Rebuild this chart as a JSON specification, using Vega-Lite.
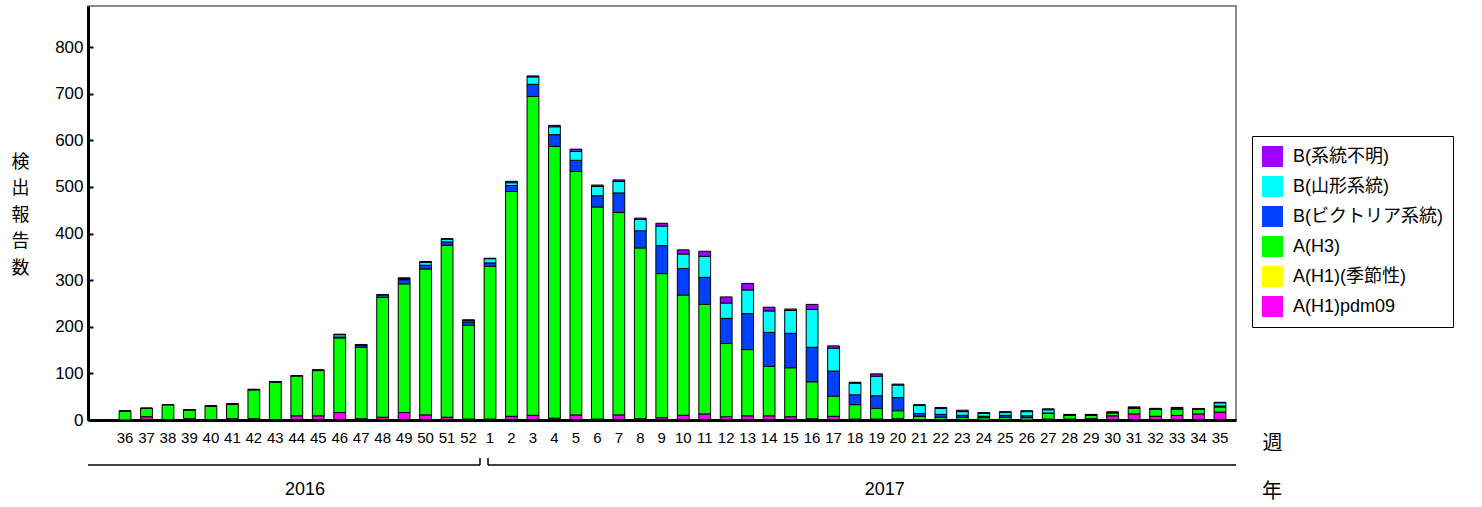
{
  "$schema": "https://vega.github.io/schema/vega-lite/v6.json",
  "width": 1148,
  "height": 414,
  "autosize": {"type": "none"},
  "padding": {"left": 88, "top": 6, "right": 246, "bottom": 87},
  "background": "white",
  "config": {
    "font": "Liberation Sans, Noto Sans CJK JP, sans-serif",
    "view": {"stroke": "#8a8a8a", "strokeWidth": 2}
  },
  "title": {"text": "年", "orient": "bottom", "anchor": "end", "frame": "group", "dx": 46, "offset": -17, "fontSize": 20, "font": "Noto Sans CJK JP", "fontWeight": "normal", "color": "black"},
  "datasets": {
    "counts": [
      {"week": 36, "A(H1)pdm09": 0, "A(H1)(季節性)": 0, "A(H3)": 19, "B(ビクトリア系統)": 0, "B(山形系統)": 0, "B(系統不明)": 0},
      {"week": 37, "A(H1)pdm09": 7, "A(H1)(季節性)": 0, "A(H3)": 18, "B(ビクトリア系統)": 0, "B(山形系統)": 0, "B(系統不明)": 0},
      {"week": 38, "A(H1)pdm09": 1, "A(H1)(季節性)": 0, "A(H3)": 32, "B(ビクトリア系統)": 0, "B(山形系統)": 0, "B(系統不明)": 0},
      {"week": 39, "A(H1)pdm09": 3, "A(H1)(季節性)": 0, "A(H3)": 19, "B(ビクトリア系統)": 0, "B(山形系統)": 0, "B(系統不明)": 0},
      {"week": 40, "A(H1)pdm09": 1, "A(H1)(季節性)": 0, "A(H3)": 29, "B(ビクトリア系統)": 0, "B(山形系統)": 0, "B(系統不明)": 0},
      {"week": 41, "A(H1)pdm09": 3, "A(H1)(季節性)": 0, "A(H3)": 31, "B(ビクトリア系統)": 0, "B(山形系統)": 0, "B(系統不明)": 0},
      {"week": 42, "A(H1)pdm09": 3, "A(H1)(季節性)": 0, "A(H3)": 62, "B(ビクトリア系統)": 0, "B(山形系統)": 0, "B(系統不明)": 1},
      {"week": 43, "A(H1)pdm09": 1, "A(H1)(季節性)": 0, "A(H3)": 81, "B(ビクトリア系統)": 0, "B(山形系統)": 0, "B(系統不明)": 0},
      {"week": 44, "A(H1)pdm09": 9, "A(H1)(季節性)": 0, "A(H3)": 86, "B(ビクトリア系統)": 0, "B(山形系統)": 0, "B(系統不明)": 0},
      {"week": 45, "A(H1)pdm09": 9, "A(H1)(季節性)": 0, "A(H3)": 97, "B(ビクトリア系統)": 1, "B(山形系統)": 0, "B(系統不明)": 0},
      {"week": 46, "A(H1)pdm09": 16, "A(H1)(季節性)": 0, "A(H3)": 160, "B(ビクトリア系統)": 2, "B(山形系統)": 5, "B(系統不明)": 1},
      {"week": 47, "A(H1)pdm09": 3, "A(H1)(季節性)": 0, "A(H3)": 153, "B(ビクトリア系統)": 4, "B(山形系統)": 1, "B(系統不明)": 1},
      {"week": 48, "A(H1)pdm09": 6, "A(H1)(季節性)": 0, "A(H3)": 257, "B(ビクトリア系統)": 1, "B(山形系統)": 4, "B(系統不明)": 1},
      {"week": 49, "A(H1)pdm09": 16, "A(H1)(季節性)": 0, "A(H3)": 276, "B(ビクトリア系統)": 9, "B(山形系統)": 2, "B(系統不明)": 2},
      {"week": 50, "A(H1)pdm09": 11, "A(H1)(季節性)": 0, "A(H3)": 313, "B(ビクトリア系統)": 8, "B(山形系統)": 6, "B(系統不明)": 2},
      {"week": 51, "A(H1)pdm09": 6, "A(H1)(季節性)": 0, "A(H3)": 369, "B(ビクトリア系統)": 7, "B(山形系統)": 6, "B(系統不明)": 1},
      {"week": 52, "A(H1)pdm09": 2, "A(H1)(季節性)": 0, "A(H3)": 201, "B(ビクトリア系統)": 7, "B(山形系統)": 3, "B(系統不明)": 2},
      {"week": 1, "A(H1)pdm09": 2, "A(H1)(季節性)": 0, "A(H3)": 328, "B(ビクトリア系統)": 7, "B(山形系統)": 9, "B(系統不明)": 1},
      {"week": 2, "A(H1)pdm09": 8, "A(H1)(季節性)": 0, "A(H3)": 482, "B(ビクトリア系統)": 13, "B(山形系統)": 6, "B(系統不明)": 3},
      {"week": 3, "A(H1)pdm09": 10, "A(H1)(季節性)": 0, "A(H3)": 684, "B(ビクトリア系統)": 26, "B(山形系統)": 16, "B(系統不明)": 2},
      {"week": 4, "A(H1)pdm09": 4, "A(H1)(季節性)": 0, "A(H3)": 583, "B(ビクトリア系統)": 25, "B(山形系統)": 17, "B(系統不明)": 3},
      {"week": 5, "A(H1)pdm09": 11, "A(H1)(季節性)": 0, "A(H3)": 522, "B(ビクトリア系統)": 24, "B(山形系統)": 19, "B(系統不明)": 5},
      {"week": 6, "A(H1)pdm09": 2, "A(H1)(季節性)": 0, "A(H3)": 455, "B(ビクトリア系統)": 24, "B(山形系統)": 20, "B(系統不明)": 3},
      {"week": 7, "A(H1)pdm09": 11, "A(H1)(季節性)": 0, "A(H3)": 434, "B(ビクトリア系統)": 42, "B(山形系統)": 25, "B(系統不明)": 3},
      {"week": 8, "A(H1)pdm09": 3, "A(H1)(季節性)": 0, "A(H3)": 366, "B(ビクトリア系統)": 37, "B(山形系統)": 24, "B(系統不明)": 3},
      {"week": 9, "A(H1)pdm09": 5, "A(H1)(季節性)": 0, "A(H3)": 309, "B(ビクトリア系統)": 60, "B(山形系統)": 42, "B(系統不明)": 6},
      {"week": 10, "A(H1)pdm09": 10, "A(H1)(季節性)": 0, "A(H3)": 258, "B(ビクトリア系統)": 57, "B(山形系統)": 31, "B(系統不明)": 9},
      {"week": 11, "A(H1)pdm09": 13, "A(H1)(季節性)": 0, "A(H3)": 235, "B(ビクトリア系統)": 58, "B(山形系統)": 45, "B(系統不明)": 11},
      {"week": 12, "A(H1)pdm09": 7, "A(H1)(季節性)": 0, "A(H3)": 157, "B(ビクトリア系統)": 54, "B(山形系統)": 33, "B(系統不明)": 13},
      {"week": 13, "A(H1)pdm09": 9, "A(H1)(季節性)": 0, "A(H3)": 142, "B(ビクトリア系統)": 77, "B(山形系統)": 51, "B(系統不明)": 14},
      {"week": 14, "A(H1)pdm09": 9, "A(H1)(季節性)": 0, "A(H3)": 106, "B(ビクトリア系統)": 73, "B(山形系統)": 46, "B(系統不明)": 8},
      {"week": 15, "A(H1)pdm09": 7, "A(H1)(季節性)": 0, "A(H3)": 105, "B(ビクトリア系統)": 74, "B(山形系統)": 49, "B(系統不明)": 3},
      {"week": 16, "A(H1)pdm09": 3, "A(H1)(季節性)": 0, "A(H3)": 79, "B(ビクトリア系統)": 74, "B(山形系統)": 81, "B(系統不明)": 11},
      {"week": 17, "A(H1)pdm09": 8, "A(H1)(季節性)": 0, "A(H3)": 43, "B(ビクトリア系統)": 54, "B(山形系統)": 49, "B(系統不明)": 5},
      {"week": 18, "A(H1)pdm09": 2, "A(H1)(季節性)": 0, "A(H3)": 31, "B(ビクトリア系統)": 21, "B(山形系統)": 25, "B(系統不明)": 2},
      {"week": 19, "A(H1)pdm09": 2, "A(H1)(季節性)": 0, "A(H3)": 23, "B(ビクトリア系統)": 27, "B(山形系統)": 42, "B(系統不明)": 5},
      {"week": 20, "A(H1)pdm09": 3, "A(H1)(季節性)": 0, "A(H3)": 17, "B(ビクトリア系統)": 28, "B(山形系統)": 27, "B(系統不明)": 2},
      {"week": 21, "A(H1)pdm09": 1, "A(H1)(季節性)": 0, "A(H3)": 7, "B(ビクトリア系統)": 6, "B(山形系統)": 17, "B(系統不明)": 2},
      {"week": 22, "A(H1)pdm09": 1, "A(H1)(季節性)": 0, "A(H3)": 5, "B(ビクトリア系統)": 6, "B(山形系統)": 13, "B(系統不明)": 2},
      {"week": 23, "A(H1)pdm09": 1, "A(H1)(季節性)": 0, "A(H3)": 5, "B(ビクトリア系統)": 4, "B(山形系統)": 8, "B(系統不明)": 3},
      {"week": 24, "A(H1)pdm09": 0, "A(H1)(季節性)": 0, "A(H3)": 5, "B(ビクトリア系統)": 3, "B(山形系統)": 6, "B(系統不明)": 2},
      {"week": 25, "A(H1)pdm09": 1, "A(H1)(季節性)": 0, "A(H3)": 5, "B(ビクトリア系統)": 4, "B(山形系統)": 6, "B(系統不明)": 2},
      {"week": 26, "A(H1)pdm09": 0, "A(H1)(季節性)": 0, "A(H3)": 5, "B(ビクトリア系統)": 4, "B(山形系統)": 9, "B(系統不明)": 2},
      {"week": 27, "A(H1)pdm09": 2, "A(H1)(季節性)": 0, "A(H3)": 12, "B(ビクトリア系統)": 1, "B(山形系統)": 7, "B(系統不明)": 2},
      {"week": 28, "A(H1)pdm09": 2, "A(H1)(季節性)": 0, "A(H3)": 8, "B(ビクトリア系統)": 1, "B(山形系統)": 0, "B(系統不明)": 1},
      {"week": 29, "A(H1)pdm09": 3, "A(H1)(季節性)": 0, "A(H3)": 7, "B(ビクトリア系統)": 1, "B(山形系統)": 0, "B(系統不明)": 1},
      {"week": 30, "A(H1)pdm09": 9, "A(H1)(季節性)": 0, "A(H3)": 6, "B(ビクトリア系統)": 1, "B(山形系統)": 1, "B(系統不明)": 0},
      {"week": 31, "A(H1)pdm09": 13, "A(H1)(季節性)": 0, "A(H3)": 12, "B(ビクトリア系統)": 1, "B(山形系統)": 1, "B(系統不明)": 1},
      {"week": 32, "A(H1)pdm09": 8, "A(H1)(季節性)": 0, "A(H3)": 15, "B(ビクトリア系統)": 1, "B(山形系統)": 0, "B(系統不明)": 1},
      {"week": 33, "A(H1)pdm09": 10, "A(H1)(季節性)": 0, "A(H3)": 13, "B(ビクトリア系統)": 1, "B(山形系統)": 2, "B(系統不明)": 1},
      {"week": 34, "A(H1)pdm09": 13, "A(H1)(季節性)": 0, "A(H3)": 11, "B(ビクトリア系統)": 0, "B(山形系統)": 0, "B(系統不明)": 0},
      {"week": 35, "A(H1)pdm09": 17, "A(H1)(季節性)": 0, "A(H3)": 11, "B(ビクトリア系統)": 2, "B(山形系統)": 7, "B(系統不明)": 1}
    ],
    "years": [
      {"year": "2016", "week": 44},
      {"year": "2017", "week": 19}
    ]
  },
  "layer": [
    {
      "data": {"name": "counts"},
      "transform": [
        {"fold": ["A(H1)pdm09", "A(H1)(季節性)", "A(H3)", "B(ビクトリア系統)", "B(山形系統)", "B(系統不明)"], "as": ["type", "count"]}
      ],
      "mark": {"type": "bar", "stroke": "black", "strokeWidth": 1},
      "encoding": {
        "x": {
          "field": "week", "type": "ordinal",
          "scale": {"domain": [36,37,38,39,40,41,42,43,44,45,46,47,48,49,50,51,52,1,2,3,4,5,6,7,8,9,10,11,12,13,14,15,16,17,18,19,20,21,22,23,24,25,26,27,28,29,30,31,32,33,34,35], "paddingInner": 0.45, "paddingOuter": 0.96, "align": 0.755, "round": false},
          "axis": {
            "title": "週", "titleX": 1184, "titleY": 23, "titleAlign": "center", "titleBaseline": "middle", "titleAngle": 0,
            "titleFontSize": 20, "titleFont": "Noto Sans CJK JP", "titleFontWeight": "normal", "titleColor": "black",
            "labelAngle": 0, "labelFontSize": 15, "labelColor": "black", "labelPadding": 15, "labelOverlap": false,
            "tickSize": -5, "tickColor": "black", "tickWidth": 2, "domainColor": "black", "domainWidth": 3, "grid": false
          }
        },
        "y": {
          "field": "count", "type": "quantitative", "stack": "zero",
          "scale": {"domain": [0, 888], "nice": false},
          "axis": {
            "title": ["検", "出", "報", "告", "数"], "titleAngle": 0, "titleX": -68, "titleY": 147, "titleAlign": "center", "titleBaseline": "top",
            "titleFontSize": 18, "titleLineHeight": 26.5, "titleFont": "Noto Sans CJK JP", "titleFontWeight": "normal", "titleColor": "black",
            "values": [0, 100, 200, 300, 400, 500, 600, 700, 800],
            "labelFontSize": 17, "labelColor": "black", "labelPadding": 10,
            "tickSize": -5, "tickColor": "black", "tickWidth": 2, "domainColor": "black", "domainWidth": 3, "grid": false
          }
        },
        "color": {
          "field": "type", "type": "nominal",
          "scale": {
            "domain": ["B(系統不明)", "B(山形系統)", "B(ビクトリア系統)", "A(H3)", "A(H1)(季節性)", "A(H1)pdm09"],
            "range": ["#a000ff", "#00ffff", "#0040ff", "#00ff00", "#ffff00", "#ff00ff"]
          },
          "legend": {
            "title": null, "orient": "none", "legendX": 1164, "legendY": 130,
            "symbolType": "square", "symbolSize": 441, "symbolStrokeWidth": 0, "symbolOpacity": 1,
            "labelFontSize": 18, "labelFont": "Liberation Sans, Noto Sans CJK JP", "labelColor": "black", "labelOffset": 10, "labelLimit": 400,
            "padding": 10, "rowPadding": 9, "strokeColor": "black", "fillColor": "white"
          }
        },
        "order": {"field": "type", "sort": "ascending"}
      }
    },
    {
      "data": {"name": "years"},
      "mark": {"type": "text", "fontSize": 18, "color": "black", "baseline": "middle", "align": "center"},
      "encoding": {
        "x": {"field": "week", "type": "ordinal", "bandPosition": 1.2},
        "y": {"datum": -150, "type": "quantitative"},
        "text": {"field": "year"}
      }
    },
    {
      "data": {"values": [{"year": "2016"}]},
      "mark": {"type": "rule", "color": "black", "strokeWidth": 1.5},
      "encoding": {
        "x": {"datum": 36, "type": "ordinal", "bandPosition": -2.636},
        "x2": {"datum": 52, "bandPosition": 1.47},
        "y": {"datum": -96.5, "type": "quantitative"}
      }
    },
    {
      "data": {"values": [{"year": "2017"}]},
      "mark": {"type": "rule", "color": "black", "strokeWidth": 1.5},
      "encoding": {
        "x": {"datum": 1, "type": "ordinal", "bandPosition": 0.33},
        "x2": {"datum": 35, "bandPosition": 1.86},
        "y": {"datum": -96.5, "type": "quantitative"}
      }
    },
    {
      "data": {"values": [{"year": "2016"}]},
      "mark": {"type": "rule", "color": "black", "strokeWidth": 1.5},
      "encoding": {
        "x": {"datum": 52, "type": "ordinal", "bandPosition": 1.47},
        "y": {"datum": -96.5, "type": "quantitative"},
        "y2": {"datum": -81.5}
      }
    },
    {
      "data": {"values": [{"year": "2017"}]},
      "mark": {"type": "rule", "color": "black", "strokeWidth": 1.5},
      "encoding": {
        "x": {"datum": 1, "type": "ordinal", "bandPosition": 0.33},
        "y": {"datum": -96.5, "type": "quantitative"},
        "y2": {"datum": -81.5}
      }
    }
  ]
}
